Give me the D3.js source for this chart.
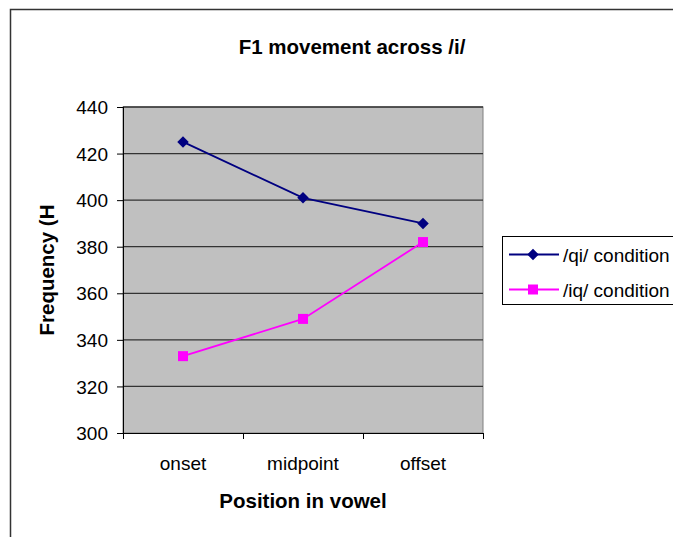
<!DOCTYPE html>
<html>
<head>
<meta charset="utf-8">
<script src="https://cdn.jsdelivr.net/npm/d3@7"></script>
<style>
  body { margin: 0; background: #fff; }
  text { font-family: Arial, "Liberation Sans", sans-serif; fill: #000; }
</style>
</head>
<body>
<svg id="chart" width="673" height="537"></svg>
<script>
// data
let positions = ["onset", "midpoint", "offset"]
let qiValues = [425, 401, 390]
let iqValues = [333, 349, 382]
let seriesNames = ["/qi/ condition", "/iq/ condition"]
let yTicks = [300, 320, 340, 360, 380, 400, 420, 440]

let svg = d3.select("#chart")

let margin = { top: 107, left: 123 }
let width = 360
let height = 326
let fontSize = "19px"
let boldSize = "20.5px"

// outer chart frame (runs off the right and bottom of the picture)
svg.append("rect")
    .attr("x", 10.5)
    .attr("y", 9.5)
    .attr("width", 700)
    .attr("height", 600)
    .style("fill", "#fff")
    .style("stroke", "#333")
    .style("stroke-width", 1.5)

svg.append("text")
    .attr("x", 352)
    .attr("y", 54)
    .style("text-anchor", "middle")
    .style("font-size", boldSize)
    .style("font-weight", "bold")
    .text("F1 movement across /i/")

let xScale = d3.scalePoint()
    .domain(positions)
    .range([0, width])
    .padding(0.5)

let xBand = d3.scaleBand()
    .domain(positions)
    .range([0, width])

let yScale = d3.scaleLinear()
    .domain([300, 440])
    .range([height, 0])

let g = svg.append("g")
    .attr("transform", "translate(" + margin.left + "," + margin.top + ")")

// plot area
g.append("rect")
    .attr("width", width)
    .attr("height", height)
    .style("fill", "#c0c0c0")
    .style("stroke", "#808080")
    .style("stroke-width", 1)

// gridlines
g.append("g")
    .selectAll("line")
    .data(yTicks.filter(d => d > 300))
    .enter().append("line")
        .attr("x1", 0)
        .attr("x2", width)
        .attr("y1", d => yScale(d))
        .attr("y2", d => yScale(d))
        .style("stroke", "#333")
        .style("stroke-width", 1.3)

let yAxis = d3.axisLeft(yScale)
    .tickValues(yTicks)
    .tickSize(6)
    .tickPadding(9)

let gY = g.append("g").call(yAxis)
gY.select(".domain").attr("d", "M0.5,0V" + (height + 6)).style("stroke", "#000")
gY.selectAll(".tick line").style("stroke", "#000")
gY.selectAll(".tick text")
    .style("font-size", fontSize)
    .style("font-family", "Arial, 'Liberation Sans', sans-serif")
    .attr("dy", "0.35em")

// x axis: ticks on the category boundaries, labels centred
let gX = g.append("g")
    .attr("transform", "translate(0," + height + ")")

gX.append("line")
    .attr("x1", 0)
    .attr("x2", width)
    .attr("y1", 0.5)
    .attr("y2", 0.5)
    .style("stroke", "#000")

gX.selectAll(".xtick")
    .data(positions.map(p => xBand(p)).concat([width]))
    .enter().append("line")
        .attr("x1", d => d + 0.5)
        .attr("x2", d => d + 0.5)
        .attr("y1", 0)
        .attr("y2", 6)
        .style("stroke", "#000")

gX.selectAll(".xlabel")
    .data(positions)
    .enter().append("text")
        .attr("x", d => xScale(d))
        .attr("y", 37)
        .style("text-anchor", "middle")
        .style("font-size", fontSize)
        .text(d => d)

svg.append("text")
    .attr("x", margin.left + width / 2)
    .attr("y", 508)
    .style("text-anchor", "middle")
    .style("font-size", boldSize)
    .style("font-weight", "bold")
    .text("Position in vowel")

svg.append("text")
    .attr("transform", "translate(54," + (margin.top + height / 2) + ") rotate(-90)")
    .style("text-anchor", "middle")
    .style("font-size", boldSize)
    .style("font-weight", "bold")
    .text("Frequency (H")

let line = d3.line()
    .x((d, i) => xScale(positions[i]))
    .y(d => yScale(d))

let diamond = d3.symbol().type(d3.symbolDiamond2).size(85)

// /qi/ series
g.append("path")
    .datum(qiValues)
    .attr("d", line)
    .style("fill", "none")
    .style("stroke", "#000080")
    .style("stroke-width", 1.8)

g.selectAll(".qi")
    .data(qiValues)
    .enter().append("path")
        .attr("d", diamond)
        .attr("transform", (d, i) => "translate(" + xScale(positions[i]) + "," + yScale(d) + ")")
        .style("fill", "#000080")

// /iq/ series
g.append("path")
    .datum(iqValues)
    .attr("d", line)
    .style("fill", "none")
    .style("stroke", "#ff00ff")
    .style("stroke-width", 1.8)

g.selectAll(".iq")
    .data(iqValues)
    .enter().append("rect")
        .attr("x", (d, i) => xScale(positions[i]) - 5)
        .attr("y", d => yScale(d) - 5)
        .attr("width", 10)
        .attr("height", 10)
        .style("fill", "#ff00ff")

// legend
let legend = svg.append("g")
    .attr("transform", "translate(502,236)")

legend.append("rect")
    .attr("x", 0.5)
    .attr("y", 0.5)
    .attr("width", 200)
    .attr("height", 68)
    .style("fill", "#fff")
    .style("stroke", "#000")
    .style("stroke-width", 1)

let legendColors = ["#000080", "#ff00ff"]
let legendRows = legend.selectAll(".row")
    .data(seriesNames)
    .enter().append("g")
        .attr("transform", (d, i) => "translate(0," + (18.5 + i * 35) + ")")

legendRows.append("line")
    .attr("x1", 7)
    .attr("x2", 57)
    .style("stroke", (d, i) => legendColors[i])
    .style("stroke-width", 1.8)

legendRows.append("path")
    .attr("d", (d, i) => i === 0 ? diamond() : "M-5,-5H5V5H-5Z")
    .attr("transform", "translate(31,0)")
    .style("fill", (d, i) => legendColors[i])

legendRows.append("text")
    .attr("x", 61)
    .attr("y", 7)
    .style("font-size", fontSize)
    .text(d => d)
</script>
</body>
</html>
